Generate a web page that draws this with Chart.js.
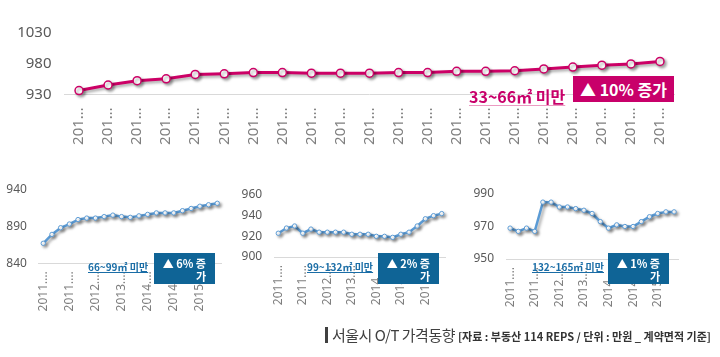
<!DOCTYPE html>
<html><head><meta charset="utf-8">
<script src="https://cdn.jsdelivr.net/npm/chart.js@4/dist/chart.umd.min.js"></script>
<style>
html,body{margin:0;padding:0;background:#fff;width:720px;height:357px;overflow:hidden;position:relative;font-family:"Noto Sans CJK KR","Noto Sans",sans-serif;}
canvas{position:absolute;}
.lbl{position:absolute;font-weight:bold;white-space:nowrap;text-decoration:underline;}
.box{position:absolute;color:#fff;font-weight:bold;box-sizing:border-box;white-space:nowrap;}
</style></head><body>
<canvas id="c0" width="720" height="160" style="left:0;top:0"></canvas>
<canvas id="c1" width="240" height="150" style="left:0;top:170px"></canvas>
<canvas id="c2" width="240" height="150" style="left:235px;top:170px"></canvas>
<canvas id="c3" width="250" height="150" style="left:470px;top:170px"></canvas>

<div class="lbl" style="left:469px;top:84px;font-size:16px;color:#c8006a;text-decoration-color:#eb9bc2;text-underline-offset:2px;">33~66㎡ 미만</div>
<div class="box" style="left:573px;top:76px;width:101px;height:26px;background:#c8006a;font-size:16px;line-height:26px;text-align:center;">▲ 10% 증가</div>

<div class="lbl" style="left:88px;top:259px;font-size:10px;color:#1a6da6;">66~99㎡ 미만</div>
<div class="box" style="left:154px;top:253px;width:61px;height:31px;background:#0f6496;font-size:11px;line-height:12.5px;text-align:right;padding:4px 9px 0 0;">▲ 6% 증<br>가</div>

<div class="lbl" style="left:307px;top:259px;font-size:10px;color:#1a6da6;">99~132㎡ 미만</div>
<div class="box" style="left:378px;top:253px;width:61px;height:31px;background:#0f6496;font-size:11px;line-height:12.5px;text-align:right;padding:4px 9px 0 0;">▲ 2% 증<br>가</div>

<div class="lbl" style="left:532px;top:259px;font-size:10px;color:#1a6da6;">132~165㎡ 미만</div>
<div class="box" style="left:608px;top:253px;width:61px;height:31px;background:#0f6496;font-size:11px;line-height:12.5px;text-align:right;padding:4px 9px 0 0;">▲ 1% 증<br>가</div>

<div style="position:absolute;left:325px;top:327px;width:3px;height:16px;background:#404040;"></div>
<div style="position:absolute;left:332px;top:325px;font-size:15px;color:#404040;white-space:nowrap;line-height:20px;letter-spacing:-0.5px;">서울시 O/T 가격동향 <span style="font-size:11px;font-weight:bold;color:#333;letter-spacing:0;">[자료 : 부동산 114 REPS / 단위 : 만원 _ 계약면적 기준]</span></div>

<script>
// Categories (quarters)
const quarters = ["2011.03","2011.06","2011.09","2011.12","2012.03","2012.06","2012.09","2012.12","2013.03","2013.06","2013.09","2013.12","2014.03","2014.06","2014.09","2014.12","2015.03","2015.06","2015.09","2015.12","2016.03"];

// Series values (만원)
const price33_66   = [936,945,952,955,962,963,965,965,964,964,964,965,965,967,967,968,971,974,977,979,983];
const price66_99   = [867,879,888,893,899,901,901,903,905,903,902,904,906,908,908,908,911,914,917,919,921];
const price99_132  = [923,928,930,923,927,924,924,924,924,922,922,922,920,920,919,922,924,930,937,940,942];
const price132_165 = [969,967,969,967,985,985,982,982,981,980,978,973,969,971,970,970,973,976,978,979,979];

// Y tick settings
const yTicks0 = {min:930, max:1030, step:50};
const yTicks1 = {min:840, max:940, step:50};
const yTicks2 = {min:900, max:960, step:20};
const yTicks3 = {min:950, max:990, step:20};

const shadowPlugin = {
  id:'shadow',
  beforeDatasetsDraw(chart){const c=chart.ctx;c.save();c.shadowColor='rgba(0,0,0,0.35)';c.shadowBlur=3;c.shadowOffsetX=2;c.shadowOffsetY=2;},
  afterDatasetsDraw(chart){chart.ctx.restore();}
};

function makeChart(id, data, yt, o){
  return new Chart(document.getElementById(id), {
    type:'line',
    data:{labels:quarters, datasets:[{data:data, borderColor:o.color, borderWidth:o.lw, pointRadius:o.pr, pointBorderWidth:o.pbw, pointBackgroundColor:'#fff', pointBorderColor:o.color, tension:0, clip:false}]},
    options:{
      responsive:false, animation:false, devicePixelRatio:1,
      layout:{padding:{top:o.top, right:o.right, left:0, bottom:0}},
      plugins:{legend:{display:false}, tooltip:{enabled:false}},
      scales:{
        x:{offset:true, grid:{display:false, drawTicks:false}, border:{display:true, color:'#d9d9d9', width:1},
           ticks:{autoSkip:false, minRotation:90, maxRotation:90, padding:o.xpad, color:'#7f7f7f', font:{family:'Noto Sans', size:o.xfs},
             callback:function(v,i){ if(i % o.every) return ''; return quarters[i].slice(0,o.cut)+'…'; }},
           afterFit(s){s.height=o.xh;}},
        y:{min:yt.min, max:yt.max, grid:{display:false, drawTicks:false}, border:{display:false},
           ticks:{stepSize:yt.step, padding:o.ypad, color:'#595959', font:{family:'Noto Sans', size:o.yfs},
             callback:function(v){ return String(v); }},
           afterFit(s){s.width=o.yw;}}
      }
    },
    plugins:[shadowPlugin]
  });
}

makeChart('c0', price33_66, yTicks0, {color:'#cc0066', lw:3, pr:4, pbw:1.5, top:32.3, right:45.5, xh:65.7, yw:64.5, xpad:13, ypad:13, xfs:15, yfs:15, every:1, cut:3});
makeChart('c1', price66_99, yTicks1, {color:'#5b9bd5', lw:2.5, pr:2.2, pbw:1, top:18.3, right:13.9, xh:56.7, yw:38.9, xpad:8, ypad:12, xfs:12, yfs:12, every:3, cut:5});
makeChart('c2', price99_132, yTicks2, {color:'#5b9bd5', lw:2.5, pr:2.2, pbw:1, top:25, right:29.2, xh:63, yw:39.2, xpad:8, ypad:12, xfs:12, yfs:12, every:3, cut:5});
makeChart('c3', price132_165, yTicks3, {color:'#5b9bd5', lw:2.5, pr:2.2, pbw:1, top:24, right:41.8, xh:61, yw:36, xpad:8, ypad:12, xfs:12, yfs:12, every:3, cut:5});
</script>
</body></html>
